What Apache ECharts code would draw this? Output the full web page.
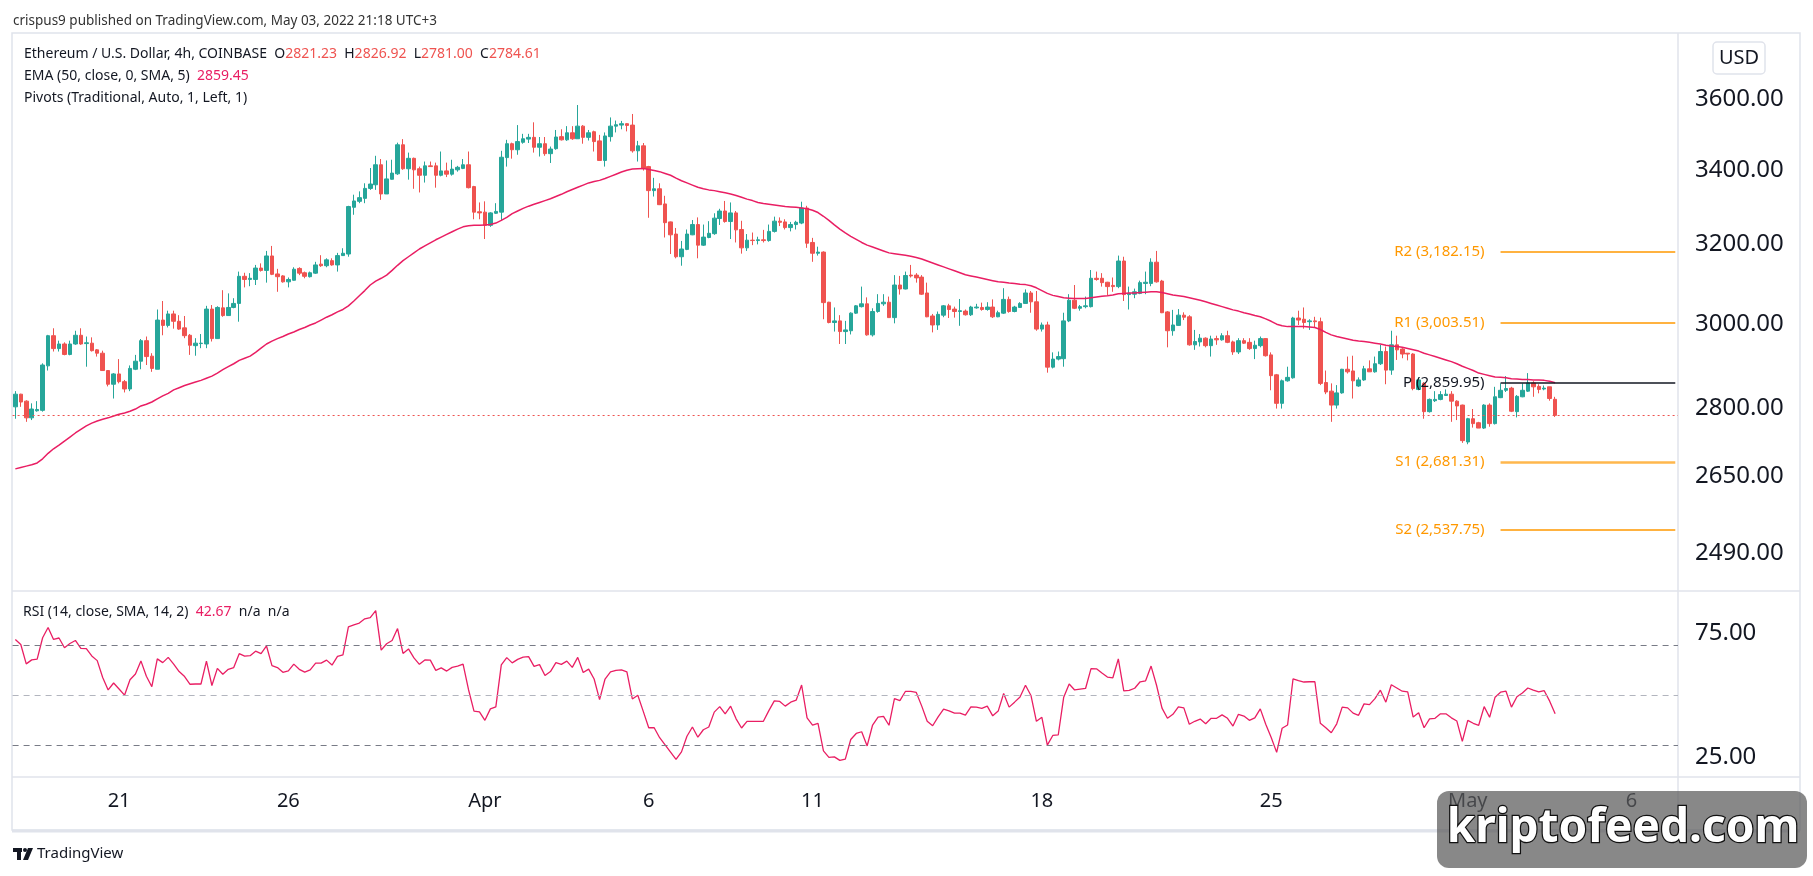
<!DOCTYPE html>
<html>
<head>
<meta charset="utf-8">
<title>Ethereum / U.S. Dollar, 4h</title>
<script src="https://cdn.jsdelivr.net/npm/echarts@6/dist/echarts.min.js"></script>
<style>
html, body { margin: 0; padding: 0; background: #fff; }
#chart { width: 1813px; height: 876px; }
</style>
</head>
<body>
<div id="chart"></div>
<script>
// 4h candles, [open, close, low, high]
const candles = [
  [2804,2833,2777,2840],[2833,2815,2804,2834],[2817,2779,2770,2819],[2779,2799,2774,2812],[2795,2798,2793,2817],
  [2796,2901,2793,2905],[2899,2971,2888,2973],[2971,2940,2933,2989],[2940,2951,2933,2959],[2951,2926,2924,2955],
  [2926,2951,2924,2959],[2951,2972,2949,2983],[2972,2951,2949,2989],[2952,2954,2897,2969],[2953,2935,2933,2967],
  [2937,2929,2921,2939],[2929,2888,2887,2935],[2888,2856,2851,2889],[2856,2880,2823,2882],[2880,2862,2858,2915],
  [2862,2845,2837,2866],[2845,2893,2840,2900],[2891,2910,2889,2925],[2910,2959,2891,2963],[2959,2921,2901,2969],
  [2922,2893,2885,2929],[2891,3009,2891,3035],[3009,2996,2972,3056],[2996,3024,2991,3032],[3024,3006,2988,3032],
  [3006,2987,2985,3021],[2990,2971,2965,3019],[2972,2948,2925,2975],[2947,2953,2923,2965],[2952,2953,2941,2975],
  [2951,3036,2941,3044],[3036,2964,2957,3046],[2964,3040,2963,3043],[3039,3020,3017,3083],[3020,3040,3019,3075],
  [3040,3050,3038,3063],[3050,3118,3005,3130],[3118,3110,3090,3127],[3110,3113,3093,3126],[3110,3139,3096,3147],
  [3139,3133,3130,3151],[3133,3170,3102,3183],[3170,3123,3121,3196],[3124,3117,3079,3137],[3119,3104,3102,3121],
  [3104,3110,3090,3115],[3108,3136,3107,3141],[3138,3126,3121,3141],[3127,3118,3113,3130],[3117,3127,3115,3130],
  [3126,3147,3124,3155],[3149,3145,3142,3172],[3145,3160,3141,3164],[3158,3147,3145,3164],[3147,3171,3130,3178],
  [3171,3177,3170,3190],[3175,3300,3168,3302],[3298,3315,3278,3332],[3314,3324,3309,3341],[3322,3349,3309,3363],
  [3349,3361,3345,3405],[3359,3414,3345,3439],[3414,3334,3318,3430],[3334,3375,3334,3426],[3374,3391,3373,3428],
  [3389,3470,3386,3476],[3470,3403,3400,3486],[3403,3432,3373,3448],[3432,3400,3348,3434],[3403,3385,3338,3409],
  [3385,3411,3365,3423],[3411,3409,3408,3423],[3411,3385,3351,3420],[3385,3397,3382,3451],[3397,3388,3380,3420],
  [3388,3402,3384,3428],[3400,3407,3395,3411],[3404,3414,3402,3430],[3414,3351,3349,3451],[3354,3285,3266,3356],
  [3286,3283,3266,3311],[3285,3250,3214,3314],[3250,3283,3246,3285],[3282,3287,3280,3309],[3285,3435,3264,3453],
  [3434,3473,3409,3484],[3473,3456,3431,3476],[3456,3479,3442,3526],[3477,3487,3473,3501],[3486,3491,3475,3501],
  [3491,3463,3448,3534],[3463,3473,3437,3492],[3473,3445,3439,3492],[3445,3458,3419,3465],[3459,3492,3456,3512],
  [3493,3484,3482,3514],[3484,3504,3481,3523],[3504,3487,3484,3523],[3487,3523,3487,3584],[3523,3491,3473,3526],
  [3491,3504,3482,3512],[3507,3479,3451,3510],[3481,3426,3426,3498],[3426,3495,3409,3505],[3493,3523,3479,3548],
  [3523,3527,3505,3539],[3526,3530,3514,3538],[3530,3525,3508,3532],[3526,3453,3448,3558],[3453,3467,3423,3481],
  [3467,3403,3398,3475],[3409,3343,3270,3411],[3343,3348,3327,3378],[3348,3305,3304,3363],[3307,3257,3218,3329],
  [3259,3225,3175,3260],[3227,3168,3164,3243],[3168,3188,3145,3209],[3187,3227,3185,3239],[3225,3252,3224,3264],
  [3252,3198,3164,3271],[3198,3219,3196,3252],[3218,3229,3216,3261],[3228,3269,3225,3282],[3268,3288,3251,3294],
  [3288,3260,3257,3315],[3260,3283,3214,3311],[3283,3238,3205,3288],[3239,3191,3176,3262],[3191,3211,3183,3227],
  [3211,3210,3198,3231],[3210,3212,3200,3220],[3212,3210,3205,3238],[3210,3234,3207,3252],[3234,3261,3231,3273],
  [3261,3258,3248,3271],[3259,3244,3239,3266],[3244,3252,3234,3259],[3252,3258,3239,3262],[3256,3296,3253,3313],
  [3296,3203,3191,3302],[3205,3177,3155,3217],[3177,3180,3171,3194],[3180,3052,3011,3182],[3053,3003,3001,3054],
  [3003,3007,2981,3040],[3007,2981,2951,3021],[2981,2985,2951,3007],[2983,3026,2974,3028],[3026,3044,3024,3046],
  [3042,3049,3040,3092],[3049,2973,2971,3065],[2973,3030,2969,3038],[3030,3050,3027,3073],[3049,3053,3044,3073],
  [3053,3015,3015,3067],[3015,3096,3001,3121],[3096,3086,3072,3119],[3086,3120,3085,3130],[3121,3119,3115,3147],
  [3121,3114,3102,3126],[3116,3073,3071,3121],[3076,3017,3016,3102],[3019,2997,2979,3024],[2997,3023,2985,3030],
  [3021,3044,3016,3046],[3044,3035,3014,3049],[3036,3030,3015,3042],[3030,3032,2995,3061],[3031,3022,3020,3035],
  [3022,3041,3019,3044],[3039,3041,3037,3049],[3040,3035,3032,3052],[3035,3041,3032,3053],[3041,3017,3014,3060],
  [3017,3027,3016,3032],[3026,3060,3024,3088],[3060,3030,3027,3067],[3030,3041,3028,3044],[3040,3050,3039,3053],
  [3050,3076,3049,3085],[3076,3054,3027,3081],[3054,2987,2983,3081],[2987,2997,2981,3003],[2997,2896,2883,3005],
  [2896,2915,2893,2931],[2915,2921,2912,2933],[2916,3007,2897,3027],[3007,3058,3004,3073],[3058,3038,3036,3096],
  [3038,3042,3032,3046],[3042,3044,3038,3067],[3042,3113,3040,3134],[3113,3110,3107,3130],[3113,3102,3092,3126],
  [3103,3092,3071,3104],[3095,3092,3079,3115],[3092,3157,3088,3171],[3157,3072,3056,3168],[3072,3075,3035,3092],
  [3073,3079,3063,3087],[3075,3102,3073,3107],[3100,3103,3073,3130],[3100,3154,3093,3164],[3154,3104,3102,3183],
  [3106,3027,3026,3109],[3029,2983,2943,3031],[2983,2997,2971,3034],[2996,3021,2995,3036],[3021,3016,3009,3028],
  [3017,2949,2947,3021],[2949,2957,2937,2985],[2956,2965,2945,2975],[2965,2947,2943,2967],[2947,2963,2921,2971],
  [2964,2961,2949,2971],[2961,2971,2959,2977],[2971,2955,2953,2983],[2956,2932,2925,2959],[2932,2959,2927,2965],
  [2959,2953,2951,2965],[2955,2940,2937,2965],[2940,2948,2915,2959],[2947,2964,2943,2969],[2964,2923,2921,2965],
  [2925,2876,2842,2931],[2878,2812,2800,2880],[2812,2864,2800,2867],[2864,2872,2862,2897],[2871,3014,2869,3017],
  [3014,3009,2997,3032],[3011,3003,2988,3040],[3005,3007,2985,3011],[3007,3005,2991,3017],[3005,2858,2854,3015],
  [2860,2838,2833,2888],[2840,2808,2770,2858],[2808,2836,2800,2854],[2836,2891,2834,2892],[2891,2885,2881,2921],
  [2887,2864,2823,2923],[2852,2866,2850,2872],[2866,2892,2864,2899],[2892,2885,2885,2912],[2885,2904,2883,2921],
  [2904,2933,2901,2949],[2933,2889,2856,2945],[2889,2949,2878,2983],[2949,2937,2913,2971],[2939,2927,2917,2941],
  [2929,2927,2912,2929],[2927,2846,2842,2929],[2844,2866,2842,2872],[2858,2793,2777,2861],[2793,2821,2791,2823],
  [2818,2821,2815,2840],[2821,2832,2819,2840],[2830,2833,2829,2844],[2833,2817,2770,2840],[2817,2806,2774,2819],
  [2808,2728,2723,2809],[2725,2777,2720,2779],[2777,2766,2757,2799],[2768,2756,2756,2770],[2756,2808,2754,2810],
  [2808,2766,2759,2812],[2766,2827,2764,2850],[2825,2842,2824,2858],[2842,2846,2838,2875],[2847,2794,2792,2850],
  [2793,2828,2780,2831],[2827,2842,2826,2858],[2840,2859,2838,2882],[2859,2850,2827,2863],[2851,2844,2835,2856],
  [2845,2847,2842,2853],[2850,2823,2818,2850],[2821.23,2784.61,2781.00,2826.92]
]

// EMA (50) as drawn
const ema = [
  2666,2669,2672,2675,2679,2688,2700,2710,2718,2727,2736,2745,2753,2761,2767,2772,2776,2779,2783,2787,
  2790,2794,2799,2806,2810,2815,2822,2829,2835,2843,2848,2853,2857,2861,2865,2870,2875,2882,2890,2897,
  2904,2912,2917,2922,2931,2941,2951,2958,2964,2969,2975,2980,2986,2991,2997,3002,3009,3016,3022,3029,
  3035,3044,3056,3069,3082,3096,3106,3113,3121,3133,3146,3158,3168,3178,3188,3196,3204,3212,3219,3226,
  3233,3240,3246,3249,3250,3250,3251,3252,3256,3263,3271,3281,3288,3295,3301,3306,3311,3316,3321,3327,
  3333,3340,3346,3352,3358,3364,3368,3371,3376,3382,3388,3394,3399,3402,3403,3404,3401,3398,3395,3390,
  3385,3377,3370,3364,3358,3352,3348,3345,3343,3340,3337,3334,3330,3325,3320,3316,3311,3308,3306,3304,
  3302,3300,3299,3298,3296,3294,3290,3284,3274,3263,3251,3240,3230,3221,3213,3205,3198,3193,3188,3183,
  3178,3176,3174,3172,3169,3166,3162,3157,3152,3147,3142,3137,3132,3127,3122,3119,3116,3113,3110,3107,
  3104,3103,3101,3100,3098,3097,3094,3089,3082,3075,3070,3067,3064,3063,3062,3062,3062,3064,3066,3068,
  3069,3071,3074,3075,3076,3076,3077,3078,3079,3079,3077,3074,3071,3069,3067,3064,3061,3058,3054,3050,
  3046,3042,3038,3034,3031,3027,3024,3020,3017,3012,3006,2999,2995,2993,2993,2993,2993,2992,2991,2986,
  2979,2973,2969,2966,2963,2960,2958,2957,2955,2953,2951,2948,2946,2945,2943,2940,2937,2934,2929,2925,
  2921,2917,2913,2909,2904,2898,2893,2888,2882,2879,2876,2873,2872,2871,2869,2868,2867,2867,2866,2866,
  2865,2863,2859.45
]

// RSI (14) as drawn
const rsi = [
  72.5,70.5,62.7,64.3,64.6,73.2,77.3,72.5,73.1,69.2,70.9,72.1,68.9,68.8,65.9,64.0,57.2,52.2,55.0,52.6,
  50.1,56.3,58.6,63.9,57.7,53.5,64.7,63.2,65.3,62.6,59.6,57.6,54.5,54.6,54.6,63.8,54.0,60.9,58.5,60.5,
  61.2,66.8,65.8,66.0,67.8,66.8,69.9,62.0,61.2,59.3,59.9,62.6,60.5,59.4,60.3,63.0,63.0,64.2,62.2,65.7,
  66.3,77.6,78.4,79.1,80.8,81.3,84.1,68.2,70.8,72.1,76.9,66.9,68.7,65.1,62.5,64.3,64.2,60.1,61.1,59.8,
  61.3,61.8,62.6,52.3,43.7,43.4,40.0,44.6,45.4,62.3,65.2,63.1,64.5,65.4,65.6,61.7,62.4,58.0,59.6,63.2,
  62.5,63.8,61.3,65.3,59.2,60.6,56.6,48.3,56.6,59.5,60.1,60.3,59.5,48.6,50.1,43.6,37.0,37.0,33.0,30.1,
  27.2,24.3,27.3,33.6,37.3,33.2,36.2,37.3,43.3,45.5,42.6,45.7,40.6,36.9,39.6,39.6,39.6,39.6,43.9,47.8,
  47.6,45.7,47.3,48.1,54.2,41.0,38.1,38.8,27.7,25.1,25.3,23.9,24.4,32.3,34.7,35.4,29.7,38.1,41.3,41.6,
  38.0,48.7,47.9,51.6,51.6,51.2,45.7,39.6,37.8,41.4,44.5,43.8,42.9,42.9,42.1,45.4,45.3,44.8,45.7,41.8,
  43.7,50.8,45.3,47.3,49.4,54.1,50.0,39.6,41.2,30.0,33.9,34.1,49.3,54.6,52.2,52.5,52.8,60.8,60.7,59.0,
  57.4,57.1,64.7,51.8,52.0,52.9,55.5,55.9,61.8,54.1,44.9,40.8,42.4,45.4,45.0,38.4,39.6,40.5,38.6,40.8,
  40.8,42.2,40.8,37.7,42.4,41.7,40.0,41.0,44.6,38.4,33.1,27.1,36.8,38.1,56.7,56.0,55.4,55.5,55.5,38.8,
  37.0,35.0,38.6,45.3,45.0,42.9,42.0,46.6,46.3,48.7,52.1,47.3,54.3,53.0,51.7,51.4,41.3,43.0,37.0,40.6,
  40.8,42.6,42.6,41.0,39.7,31.5,40.0,38.8,38.0,45.5,41.2,49.3,51.3,51.7,45.3,49.5,51.0,53.0,52.1,51.4,
  51.9,47.7,42.67
]

// pivot levels (Traditional)
const pivotNames = ['R2', 'R1', 'P', 'S1', 'S2']
const pivotValues = [3182.15, 3003.51, 2859.95, 2681.31, 2537.75]
const pivotStart = 272

// axis labels
const priceTicks = [3600, 3400, 3200, 3000, 2800, 2650, 2490]
const rsiTicks = [75, 25]
const rsiBands = [70, 50, 30]
const xTicks = [[19, '21'], [50, '26'], [86, 'Apr'], [116, '6'], [146, '11'], [188, '18'], [230, '25'], [266, 'May'], [296, '6']]
const slotCount = 305

const FONT = '"Noto Sans", sans-serif'
const TEXT = '#131722'
const UP = '#26a69a'
const DOWN = '#ef5350'
const PINK = '#e91e63'
const ORANGE = '#ff9800'
const FRAME = '#e0e3eb'

const cats = []
for (let i = 0; i < slotCount; i++) cats.push(String(i))
const tickMap = {}
xTicks.forEach(function(t) { tickMap[t[0]] = t[1] })

const money = function(v) {
  return v.toLocaleString('en-US', { minimumFractionDigits: 2, maximumFractionDigits: 2 })
}

const pivotLines = pivotNames.map(function(n, i) {
  const isP = n === 'P'
  const isS1 = n === 'S1'
  return [
    {
      coord: [pivotStart, pivotValues[i]],
      name: n + ' (' + money(pivotValues[i]) + ')',
      lineStyle: { color: isP ? TEXT : (isS1 ? '#ffb74d' : ORANGE), width: isS1 ? 2.5 : 1.5, type: 'solid' },
      label: { color: isP ? TEXT : ORANGE }
    },
    { coord: [slotCount - 1, pivotValues[i]] }
  ]
})

const last = candles[candles.length - 1]

const chart = echarts.init(document.getElementById('chart'))

chart.setOption({
  animation: false,
  backgroundColor: '#fff',
  textStyle: { fontFamily: FONT },
  grid: [
    { left: 12.6, right: 135, top: 35, height: 556 },
    { left: 12.6, right: 135, top: 592, height: 185 }
  ],
  xAxis: [
    {
      type: 'category', gridIndex: 0, data: cats,
      axisLine: { show: false }, axisTick: { show: false }, axisLabel: { show: false }, splitLine: { show: false }
    },
    {
      type: 'category', gridIndex: 1, data: cats,
      axisLine: { show: false }, axisTick: { show: false }, splitLine: { show: false },
      axisLabel: {
        interval: function(idx) { return tickMap[idx] !== undefined },
        formatter: function(v, idx) { return tickMap[idx] || '' },
        fontSize: 20, color: TEXT, margin: 14, fontFamily: FONT
      }
    }
  ],
  yAxis: [
    {
      type: 'log', logBase: 10, gridIndex: 0, position: 'right', min: 2414, max: 3794,
      axisLine: { show: false }, axisTick: { show: false }, splitLine: { show: false },
      axisLabel: {
        customValues: priceTicks,
        formatter: function(v) { return Number(v).toFixed(2) },
        fontSize: 24, color: TEXT, margin: 17, fontFamily: FONT
      }
    },
    {
      type: 'value', gridIndex: 1, position: 'right', min: 17.2, max: 91.6,
      axisLine: { show: false }, axisTick: { show: false }, splitLine: { show: false },
      axisLabel: {
        customValues: rsiTicks,
        formatter: function(v) { return Number(v).toFixed(2) },
        fontSize: 24, color: TEXT, margin: 17, fontFamily: FONT
      }
    }
  ],
  series: [
    {
      name: 'ETHUSD',
      type: 'candlestick',
      xAxisIndex: 0,
      yAxisIndex: 0,
      barWidth: 4,
      data: candles,
      itemStyle: {
        color: UP, color0: DOWN, borderColor: UP, borderColor0: DOWN, borderWidth: 1
      },
      markLine: {
        silent: true,
        symbol: ['none', 'none'],
        label: {
          show: true, position: 'start', distance: 16,
          formatter: function(p) { return p.name },
          fontSize: 15, fontFamily: FONT
        },
        data: pivotLines.concat([
          {
            yAxis: last[1],
            lineStyle: { color: DOWN, type: [2, 3], width: 1 },
            label: { show: false }
          }
        ])
      }
    },
    {
      name: 'EMA',
      type: 'line',
      xAxisIndex: 0,
      yAxisIndex: 0,
      data: ema,
      symbol: 'none',
      lineStyle: { color: PINK, width: 1.5 },
      z: 3
    },
    {
      name: 'RSI',
      type: 'line',
      xAxisIndex: 1,
      yAxisIndex: 1,
      data: rsi,
      symbol: 'none',
      lineStyle: { color: PINK, width: 1.3 },
      markLine: {
        silent: true,
        symbol: ['none', 'none'],
        label: { show: false },
        data: rsiBands.map(function(v) {
          return { yAxis: v, lineStyle: { color: v === 50 ? '#b2b5be' : '#787b86', type: [6, 5], width: 1 } }
        })
      }
    }
  ],
  graphic: [
    // frame
    { type: 'rect', z: 0, silent: true, shape: { x: 12, y: 33, width: 1788, height: 797 }, style: { fill: 'none', stroke: FRAME, lineWidth: 1.5 } },
    { type: 'line', z: 0, silent: true, shape: { x1: 12, y1: 591, x2: 1800, y2: 591 }, style: { stroke: FRAME, lineWidth: 1.5 } },
    { type: 'line', z: 0, silent: true, shape: { x1: 12, y1: 777, x2: 1800, y2: 777 }, style: { stroke: FRAME, lineWidth: 1.5 } },
    { type: 'line', z: 0, silent: true, shape: { x1: 1678, y1: 33, x2: 1678, y2: 830 }, style: { stroke: FRAME, lineWidth: 1.5 } },
    { type: 'line', z: 0, silent: true, shape: { x1: 12, y1: 831, x2: 1800, y2: 831 }, style: { stroke: FRAME, lineWidth: 3 } },
    // publish line
    {
      type: 'text', x: 13, y: 21, silent: true,
      style: { text: 'crispus9 published on TradingView.com, May 03, 2022 21:18 UTC+3', fill: '#333', fontSize: 13.5, fontFamily: FONT, verticalAlign: 'middle', textVerticalAlign: 'middle' }
    },
    // legend lines
    {
      type: 'text', x: 24, y: 54, silent: true,
      style: {
        text: '{t|Ethereum / U.S. Dollar, 4h, COINBASE  O}{r|' + last[0].toFixed(2) + '}{t|  H}{r|' + last[3].toFixed(2) +
          '}{t|  L}{r|' + last[2].toFixed(2) + '}{t|  C}{r|' + last[1].toFixed(2) + '}',
        verticalAlign: 'middle', textVerticalAlign: 'middle',
        rich: {
          t: { fill: TEXT, color: TEXT, fontSize: 14, fontFamily: FONT },
          r: { fill: DOWN, color: DOWN, fontSize: 14, fontFamily: FONT }
        }
      }
    },
    {
      type: 'text', x: 24, y: 76, silent: true,
      style: {
        text: '{t|EMA (50, close, 0, SMA, 5)  }{p|' + ema[ema.length - 1].toFixed(2) + '}',
        verticalAlign: 'middle', textVerticalAlign: 'middle',
        rich: {
          t: { fill: TEXT, color: TEXT, fontSize: 14, fontFamily: FONT },
          p: { fill: PINK, color: PINK, fontSize: 14, fontFamily: FONT }
        }
      }
    },
    {
      type: 'text', x: 24, y: 98, silent: true,
      style: { text: 'Pivots (Traditional, Auto, 1, Left, 1)', fill: TEXT, fontSize: 14, fontFamily: FONT, verticalAlign: 'middle', textVerticalAlign: 'middle' }
    },
    {
      type: 'text', x: 23, y: 612, silent: true,
      style: {
        text: '{t|RSI (14, close, SMA, 14, 2)  }{p|' + rsi[rsi.length - 1].toFixed(2) + '}{t|  n/a  n/a}',
        verticalAlign: 'middle', textVerticalAlign: 'middle',
        rich: {
          t: { fill: TEXT, color: TEXT, fontSize: 14, fontFamily: FONT },
          p: { fill: PINK, color: PINK, fontSize: 14, fontFamily: FONT }
        }
      }
    },
    // currency button
    { type: 'rect', silent: true, shape: { x: 1713, y: 42, width: 52, height: 32, r: 4 }, style: { fill: '#fff', stroke: FRAME, lineWidth: 1.5 } },
    {
      type: 'text', x: 1739, y: 58, silent: true,
      style: { text: 'USD', fill: TEXT, fontSize: 20, fontFamily: FONT, align: 'center', textAlign: 'center', verticalAlign: 'middle', textVerticalAlign: 'middle' }
    },
    // TradingView footer
    { type: 'rect', silent: true, shape: { x: 13, y: 848, width: 9, height: 4 }, style: { fill: TEXT } },
    { type: 'rect', silent: true, shape: { x: 17, y: 848, width: 4, height: 12 }, style: { fill: TEXT } },
    { type: 'circle', silent: true, shape: { cx: 25, cy: 850, r: 2 }, style: { fill: TEXT } },
    { type: 'polygon', silent: true, shape: { points: [[28, 848], [33, 848], [28, 860], [23, 860]] }, style: { fill: TEXT } },
    {
      type: 'text', x: 37, y: 854, silent: true,
      style: { text: 'TradingView', fill: TEXT, fontSize: 15, fontFamily: FONT, verticalAlign: 'middle', textVerticalAlign: 'middle' }
    },
    // watermark
    { type: 'rect', z: 100, silent: true, shape: { x: 1437, y: 791, width: 370, height: 77, r: 12 }, style: { fill: 'rgba(90,90,90,0.72)' } },
    {
      type: 'text', z: 101, x: 1623, y: 829, silent: true,
      style: {
        text: 'kriptofeed.com', fill: '#fff', fontSize: 46, fontWeight: 'bold', fontFamily: FONT,
        align: 'center', textAlign: 'center', verticalAlign: 'middle', textVerticalAlign: 'middle',
        stroke: '#111', lineWidth: 2.5, shadowColor: 'rgba(0,0,0,0.8)', shadowOffsetX: 2, shadowOffsetY: 2, shadowBlur: 2
      }
    }
  ]
})
</script>
</body>
</html>
